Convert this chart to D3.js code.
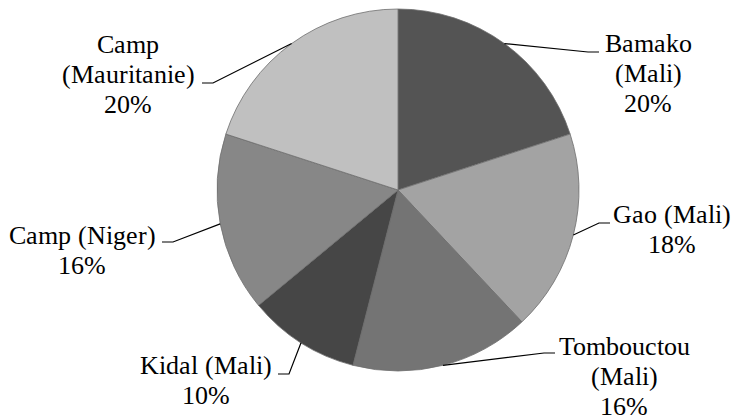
<!DOCTYPE html>
<html>
<head>
<meta charset="utf-8">
<script src="https://cdn.jsdelivr.net/npm/d3@7"></script>
<style>
  @font-face {
    font-family: "ChartSerif";
    src: local("Liberation Serif"), local("LiberationSerif"), local("LiberationSerif-Regular"), local("Times New Roman"), local("DejaVu Serif");
  }
</style>
</head>
<body style="margin:0">
<script>
  // Data
  const categories = ["Bamako (Mali)", "Gao (Mali)", "Tombouctou (Mali)", "Kidal (Mali)", "Camp (Niger)", "Camp (Mauritanie)"];
  const labelLines = [["Bamako", "(Mali)"], ["Gao (Mali)"], ["Tombouctou", "(Mali)"], ["Kidal (Mali)"], ["Camp (Niger)"], ["Camp", "(Mauritanie)"]];
  const values = [20, 18, 16, 10, 16, 20];
  const colors = ["#545454", "#a3a3a3", "#747474", "#464646", "#878787", "#c0c0c0"];

  // Layout: label block centre x, first baseline y, leader end x / y, side
  const labelLayout = [
    { x: 648, y: 52, ex: 599, ly: 52, side: "right" },
    { x: 672, y: 223, ex: 610, ly: 223, side: "right" },
    { x: 624, y: 355, ex: 555, ly: 353, side: "right" },
    { x: 206, y: 374, ex: 278, ly: 374, side: "left" },
    { x: 82, y: 244, ex: 162, ly: 242, side: "left" },
    { x: 128, y: 53, ex: 202, ly: 83, side: "left" }
  ];

  const width = 733, height = 418;
  const cx = 398, cy = 190, radius = 181;
  const lineHeight = 30;

  const svg = d3.select("body").append("svg")
    .attr("width", width)
    .attr("height", height);

  const total = d3.sum(values);
  const pie = d3.pie().sort(null).value(d => d);
  const arcs = pie(values);
  const arc = d3.arc().innerRadius(0).outerRadius(radius);

  const g = svg.append("g").attr("transform", `translate(${cx},${cy})`);

  g.selectAll("path")
    .data(arcs)
    .enter()
    .append("path")
    .attr("d", arc)
    .attr("fill", (d, i) => colors[i])
    .attr("stroke", "#6e6e6e")
    .attr("stroke-width", 0.8);

  // Leader lines: arc midpoint -> elbow -> label edge
  svg.selectAll("polyline")
    .data(arcs)
    .enter()
    .append("polyline")
    .attr("points", (d, i) => {
      const lay = labelLayout[i];
      const mid = (d.startAngle + d.endAngle) / 2;
      const sx = cx + radius * Math.sin(mid);
      const sy = cy - radius * Math.cos(mid);
      const elbowX = lay.side === "right" ? lay.ex - 11 : lay.ex + 11;
      return [[sx, sy], [elbowX, lay.ly], [lay.ex, lay.ly]].map(p => p.join(",")).join(" ");
    })
    .attr("fill", "none")
    .attr("stroke", "#000")
    .attr("stroke-width", 1.2);

  // Labels
  const rows = [];
  arcs.forEach((d, i) => {
    const lines = labelLines[i].concat([Math.round(values[i] / total * 100) + "%"]);
    lines.forEach((t, j) => rows.push({ t, x: labelLayout[i].x, y: labelLayout[i].y + j * lineHeight }));
  });

  svg.selectAll("text")
    .data(rows)
    .enter()
    .append("text")
    .attr("x", d => d.x)
    .attr("y", d => d.y)
    .attr("text-anchor", "middle")
    .attr("font-family", d => "ChartSerif, Liberation Serif, Times New Roman, serif")
    .attr("font-size", 26)
    .attr("fill", "#000")
    .text(d => d.t);
</script>
</body>
</html>
